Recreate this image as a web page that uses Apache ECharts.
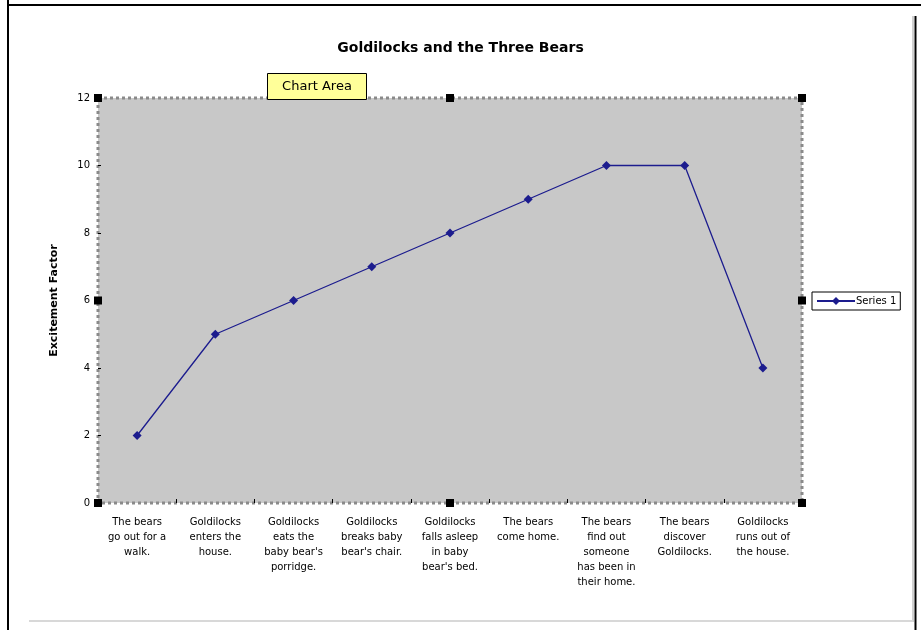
<!DOCTYPE html>
<html>
<head>
<meta charset="utf-8">
<script src="https://cdn.jsdelivr.net/npm/echarts@6/dist/echarts.min.js"></script>
<style>
html,body{margin:0;padding:0;background:#fff;}
#c{width:921px;height:630px;}
</style>
</head>
<body>
<div id="c"></div>
<script>
var categories = [
  "The bears\ngo out for a\nwalk.",
  "Goldilocks\nenters the\nhouse.",
  "Goldilocks\neats the\nbaby bear's\nporridge.",
  "Goldilocks\nbreaks baby\nbear's chair.",
  "Goldilocks\nfalls asleep\nin baby\nbear's bed.",
  "The bears\ncome home.",
  "The bears\nfind out\nsomeone\nhas been in\ntheir home.",
  "The bears\ndiscover\nGoldilocks.",
  "Goldilocks\nruns out of\nthe house."
];
var series1 = [2, 5, 6, 7, 8, 9, 10, 10, 4];
var yTicks = {min: 0, max: 12, interval: 2};

var chart = echarts.init(document.getElementById('c'));
var G = {left: 98, top: 98, right: 119, bottom: 127};
var gx0 = G.left, gy0 = G.top, gx1 = 921 - G.right, gy1 = 630 - G.bottom;
var gxm = (gx0 + gx1) / 2, gym = (gy0 + gy1) / 2;
function handle(x, y) {
  return {type: 'rect', shape: {x: x - 4, y: y - 4, width: 8, height: 8},
    style: {fill: '#000'}, z: 100};
}
var FONT = 'DejaVu Sans';
var LINE = '#1c1c8e';
chart.setOption({
  animation: false,
  backgroundColor: '#fff',
  textStyle: {fontFamily: FONT},
  title: {
    text: 'Goldilocks and the Three Bears',
    left: 'center', top: 36,
    textStyle: {fontSize: 14, fontWeight: 'bold', color: '#000', fontFamily: FONT}
  },
  legend: {
    orient: 'vertical',
    left: 812, top: 292,
    padding: [4, 4, 4, 4],
    itemGap: 0,
    itemWidth: 38, itemHeight: 10,
    borderColor: '#000', borderWidth: 1,
    backgroundColor: '#fff',
    textStyle: {fontSize: 10, color: '#000', fontFamily: FONT, padding: [0, 0, 0, -4]},
    data: ['Series 1']
  },
  grid: {
    left: G.left, top: G.top, right: G.right, bottom: G.bottom,
    show: true, backgroundColor: '#c8c8c8',
    borderColor: '#8a8a8a', borderWidth: 3, borderType: 'dotted'
  },
  xAxis: {
    type: 'category',
    data: categories,
    boundaryGap: true,
    axisLine: {show: false},
    axisTick: {show: true, length: 4, inside: true, lineStyle: {color: '#000'}},
    axisLabel: {interval: 0, fontSize: 10, lineHeight: 15, color: '#000', margin: 12, fontFamily: FONT}
  },
  yAxis: {
    type: 'value',
    min: yTicks.min, max: yTicks.max, interval: yTicks.interval,
    name: 'Excitement Factor',
    nameLocation: 'middle', nameGap: 38, nameRotate: 90,
    nameTextStyle: {fontSize: 11, fontWeight: 'bold', color: '#000', fontFamily: FONT},
    axisLine: {show: false},
    axisTick: {show: true, length: 3, inside: true, lineStyle: {color: '#000'}},
    splitLine: {show: false},
    axisLabel: {fontSize: 10, color: '#000', margin: 8, fontFamily: FONT}
  },
  series: [{
    name: 'Series 1',
    type: 'line',
    data: series1,
    symbol: 'diamond', symbolSize: 9,
    lineStyle: {color: LINE, width: 1.3},
    itemStyle: {color: LINE}
  }],
  graphic: [
    {type: 'line', shape: {x1: 8, y1: 0, x2: 8, y2: 630}, style: {stroke: '#000', lineWidth: 2}},
    {type: 'line', shape: {x1: 8, y1: 5, x2: 921, y2: 5}, style: {stroke: '#000', lineWidth: 2}},
    {type: 'line', shape: {x1: 915.5, y1: 16, x2: 915.5, y2: 630}, style: {stroke: '#000', lineWidth: 2}},
    {type: 'line', shape: {x1: 913, y1: 16, x2: 913, y2: 622}, style: {stroke: '#d0d0d0', lineWidth: 2}},
    {type: 'line', shape: {x1: 29, y1: 621, x2: 913, y2: 621}, style: {stroke: '#d8d8d8', lineWidth: 2}},
    handle(gx0, gy0), handle(gxm, gy0), handle(gx1, gy0),
    handle(gx0, gym), handle(gx1, gym),
    handle(gx0, gy1), handle(gxm, gy1), handle(gx1, gy1),
    {type: 'group', left: 267, top: 73, z: 200, children: [
      {type: 'rect', shape: {x: 0, y: 0, width: 99, height: 26},
        style: {fill: '#ffff99', stroke: '#000', lineWidth: 1}},
      {type: 'text', style: {text: 'Chart Area', x: 49.5, y: 13, textAlign: 'center', textVerticalAlign: 'middle',
        fontSize: 13, fontFamily: FONT, fill: '#000'}}
    ]}
  ]
});
</script>
</body>
</html>
